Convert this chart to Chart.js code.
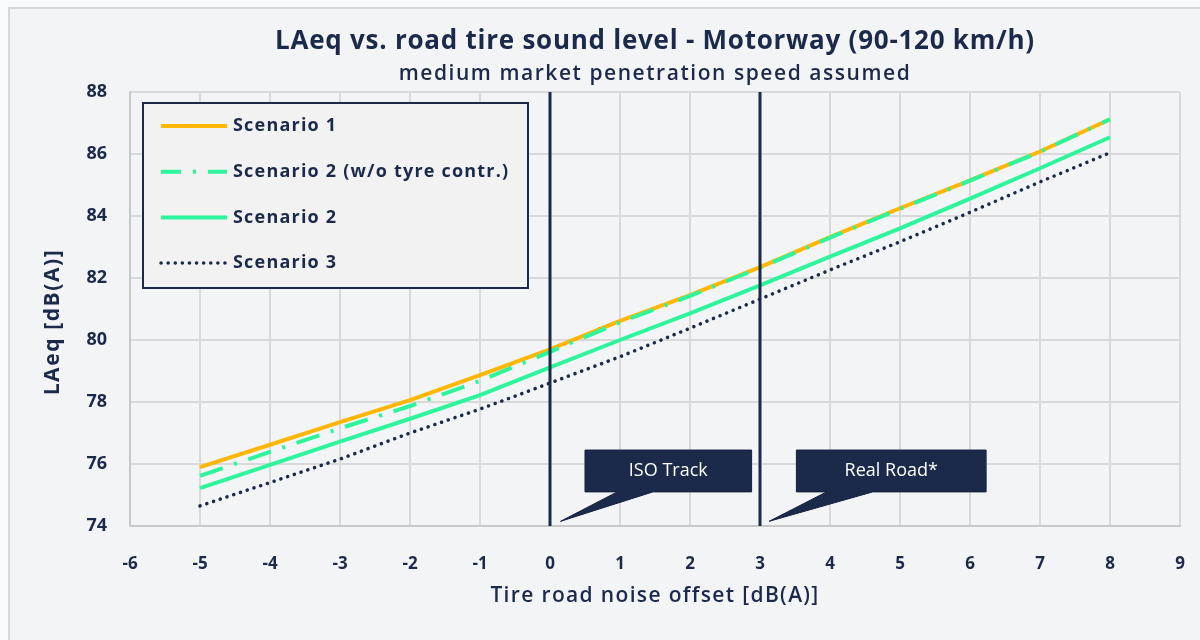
<!DOCTYPE html>
<html>
<head>
<meta charset="utf-8">
<script src="https://cdn.jsdelivr.net/npm/chart.js@4/dist/chart.umd.min.js"></script>
<style>
  body { margin: 0; background: #F9FAFB; }
  #wrap { width: 1200px; height: 640px; }
</style>
</head>
<body>
<div id="wrap"><canvas id="chart"></canvas></div>
<script>
// tire road noise offset [dB(A)]
const offsets = [-5, -4, -3, -2, -1, 0, 1, 2, 3, 4, 5, 6, 7, 8];

// LAeq [dB(A)]
const scenario1 = [75.9, 76.62, 77.35, 78.06, 78.87, 79.7, 80.62, 81.45, 82.35, 83.32, 84.25, 85.15, 86.08, 87.12];
const scenario2NoTyre = [75.62, 76.39, 77.15, 77.87, 78.68, 79.62, 80.57, 81.42, 82.33, 83.3, 84.23, 85.14, 86.07, 87.12];
const scenario2 = [75.22, 75.97, 76.72, 77.46, 78.22, 79.12, 80.0, 80.86, 81.76, 82.69, 83.6, 84.56, 85.54, 86.54];
const scenario3 = [74.65, 75.4, 76.16, 77.0, 77.77, 78.61, 79.46, 80.38, 81.32, 82.26, 83.17, 84.12, 85.1, 86.04];

const seriesNames = ["Scenario 1", "Scenario 2 (w/o tyre contr.)", "Scenario 2", "Scenario 3"];

// reference lines and their callouts
const markerOffsets = [0, 3];
const callouts = [
  { text: "ISO Track", x0: 0.5, x1: 2.88, base0: 0.96, base1: 1.47, tipX: 0.15, yTop: 76.45, yBottom: 75.1, tipY: 74.15 },
  { text: "Real Road*", x0: 3.52, x1: 6.23, base0: 3.95, base1: 4.61, tipX: 3.13, yTop: 76.45, yBottom: 75.1, tipY: 74.15 }
];

const NAVY = "#1B2A4A";
const ORANGE = "#FFB703";
const GREEN = "#2EF59C";
const GRID = "#D9D9D9";
const FONT = "'Open Sans', sans-serif";

function points(values) {
  return offsets.map((x, i) => ({ x: x, y: values[i] }));
}

const datasets = [
  { label: seriesNames[0], data: points(scenario1), borderColor: ORANGE, borderWidth: 4, order: 2 },
  { label: seriesNames[1], data: points(scenario2NoTyre), borderColor: GREEN, borderWidth: 4, borderDash: [24, 12, 3, 12], order: 1 },
  { label: seriesNames[2], data: points(scenario2), borderColor: GREEN, borderWidth: 4, order: 3 },
  { label: seriesNames[3], data: points(scenario3), borderColor: NAVY, borderWidth: 3.5, borderDash: [0.1, 7], borderCapStyle: "round", order: 4 }
];
datasets.forEach(d => { d.pointRadius = 0; d.tension = 0; d.fill = false; });

function spacedText(ctx, text, x, y, font, spacing) {
  ctx.font = font;
  ctx.letterSpacing = spacing + "px";
  ctx.fillText(text, x, y);
  ctx.letterSpacing = "0px";
}

const decor = {
  id: "decor",
  beforeDraw(chart) {
    const ctx = chart.ctx;
    const area = chart.chartArea;
    ctx.save();
    ctx.fillStyle = "#F9FAFB";
    ctx.fillRect(0, 0, chart.width, chart.height);
    ctx.fillStyle = "#F3F4F6";
    ctx.strokeStyle = "#D6D8DB";
    ctx.lineWidth = 2;
    ctx.fillRect(9, 8, chart.width, chart.height);
    ctx.strokeRect(9, 8, chart.width + 10, chart.height + 10);

    // title + subtitle, centred over the plot area
    const cx = (area.left + area.right) / 2;
    ctx.fillStyle = NAVY;
    ctx.textAlign = "center";
    ctx.textBaseline = "middle";
    spacedText(ctx, "LAeq vs. road tire sound level - Motorway (90-120 km/h)", cx, 42, "bold 26px " + FONT, 0.75);
    spacedText(ctx, "medium market penetration speed assumed", cx, 74, "600 21px " + FONT, 1.55);

    // axis titles
    spacedText(ctx, "Tire road noise offset [dB(A)]", cx, 596, "600 21px " + FONT, 1.35);
    ctx.translate(53, 322);
    ctx.rotate(-Math.PI / 2);
    spacedText(ctx, "LAeq [dB(A)]", 0, 0, "bold 21px " + FONT, 1.6);
    ctx.restore();
  },
  afterDatasetsDraw(chart) {
    const ctx = chart.ctx;
    const xs = chart.scales.x, ys = chart.scales.y;
    const area = chart.chartArea;
    ctx.save();

    // vertical reference lines
    ctx.strokeStyle = NAVY;
    ctx.lineWidth = 3;
    markerOffsets.forEach(v => {
      const px = xs.getPixelForValue(v);
      ctx.beginPath();
      ctx.moveTo(px, area.top);
      ctx.lineTo(px, area.bottom);
      ctx.stroke();
    });

    // callout boxes
    callouts.forEach(c => {
      const l = xs.getPixelForValue(c.x0), r = xs.getPixelForValue(c.x1);
      const t = ys.getPixelForValue(c.yTop), b = ys.getPixelForValue(c.yBottom);
      ctx.fillStyle = NAVY;
      ctx.strokeStyle = "#15213D";
      ctx.lineWidth = 1;
      ctx.beginPath();
      ctx.moveTo(l, t);
      ctx.lineTo(r, t);
      ctx.lineTo(r, b);
      ctx.lineTo(xs.getPixelForValue(c.base1), b);
      ctx.lineTo(xs.getPixelForValue(c.tipX), ys.getPixelForValue(c.tipY));
      ctx.lineTo(xs.getPixelForValue(c.base0), b);
      ctx.lineTo(l, b);
      ctx.closePath();
      ctx.fill();
      ctx.stroke();
      ctx.fillStyle = "#FFFFFF";
      ctx.font = "18px " + FONT;
      ctx.textAlign = "center";
      ctx.textBaseline = "middle";
      ctx.fillText(c.text, (l + r) / 2, (t + b) / 2);
    });

    // legend box inside the plot
    const lx = area.left + 13, ly = area.top + 11, lw = 385, lh = 185;
    ctx.fillStyle = "#F2F2F2";
    ctx.fillRect(lx, ly, lw, lh);
    ctx.strokeStyle = NAVY;
    ctx.lineWidth = 2;
    ctx.strokeRect(lx, ly, lw, lh);
    datasets.forEach((d, i) => {
      const y = ly + 23 + i * 45.7;
      ctx.strokeStyle = d.borderColor;
      ctx.lineWidth = d.borderWidth;
      ctx.lineCap = d.borderCapStyle || "butt";
      ctx.setLineDash(d.borderDash ? (i === 1 ? [20, 12, 3, 12] : [0.1, 7]) : []);
      ctx.beginPath();
      ctx.moveTo(lx + 18, y);
      ctx.lineTo(lx + 84, y);
      ctx.stroke();
      ctx.setLineDash([]);
      ctx.fillStyle = NAVY;
      ctx.textAlign = "left";
      ctx.textBaseline = "middle";
      spacedText(ctx, d.label, lx + 90, y, "bold 18px " + FONT, 1.2);
    });
    ctx.restore();
  }
};

new Chart("chart", {
  type: "line",
  data: { datasets: datasets },
  options: {
    responsive: true,
    maintainAspectRatio: false,
    animation: false,
    layout: { padding: { top: 92, right: 20, left: 0, bottom: 0 } },
    plugins: {
      legend: { display: false },
      title: { display: false },
      tooltip: { enabled: false }
    },
    scales: {
      x: {
        type: "linear",
        min: -6,
        max: 9,
        // keep the tick padding from widening the right margin
        afterFit: s => { s.height = 114; s.paddingRight = 12; s.paddingLeft = 0; },
        ticks: { stepSize: 1, color: NAVY, padding: 28, font: { family: FONT, size: 17, weight: "bold" } },
        grid: { color: GRID, lineWidth: 2, drawTicks: false },
        border: { color: "#C8C8C8", width: 2 }
      },
      y: {
        min: 74,
        max: 88,
        afterFit: s => { s.width = 130; },
        ticks: { stepSize: 2, color: NAVY, padding: 23, font: { family: FONT, size: 18, weight: "bold" } },
        grid: { color: GRID, lineWidth: 2, drawTicks: false },
        border: { color: "#C8C8C8", width: 2 }
      }
    }
  },
  plugins: [decor]
});
</script>
</body>
</html>
